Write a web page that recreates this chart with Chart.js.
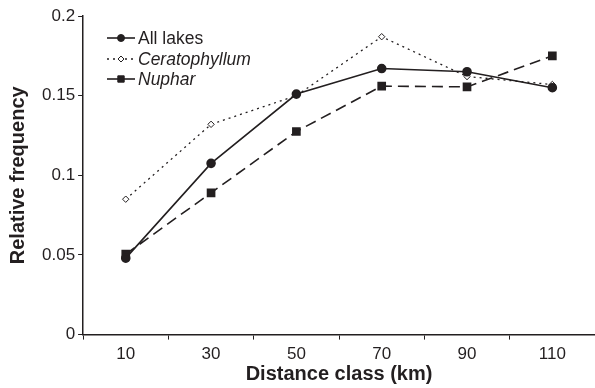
<!DOCTYPE html>
<html>
<head>
<meta charset="utf-8">
<script src="https://cdn.jsdelivr.net/npm/chart.js@4"></script>
<style>
  html, body { margin: 0; padding: 0; background: #fff; }
  #wrap { width: 595px; height: 388px; }
</style>
</head>
<body>
<div id="wrap"><canvas id="distChart" width="595" height="388"></canvas></div>
<script>
const distanceClasses = ['10', '30', '50', '70', '90', '110'];
const allLakes = [0.048, 0.1075, 0.151, 0.167, 0.165, 0.155];
const ceratophyllum = [0.085, 0.132, 0.150, 0.187, 0.162, 0.157];
const nuphar = [0.0505, 0.089, 0.1275, 0.156, 0.1555, 0.175];
const yTickLabels = ['0', '0.05', '0.1', '0.15', '0.2'];

const ink = '#231f20';
const fontFam = '"Liberation Sans", Arial, sans-serif';

// legend drawn inside the plot, top-left
const innerLegend = {
  id: 'innerLegend',
  afterDraw(chart) {
    const c = chart.ctx;
    const x0 = 107, x1 = 135;
    const ys = [38, 59, 79];
    c.save();
    chart.data.datasets.forEach((ds, i) => {
      const y = ys[i];
      c.strokeStyle = ink;
      c.lineWidth = ds.borderWidth;
      c.setLineDash(ds.legendDash || []);
      c.beginPath();
      c.moveTo(x0, y);
      c.lineTo(x1, y);
      c.stroke();
      c.setLineDash([]);
      c.fillStyle = ds.pointBackgroundColor;
      c.strokeStyle = ink;
      c.lineWidth = 1;
      Chart.helpers.drawPoint(c, {
        pointStyle: ds.pointStyle,
        radius: ds.legendRadius,
        borderWidth: 1
      }, (x0 + x1) / 2, y);
      c.fillStyle = ink;
      c.font = (ds.italic ? 'italic ' : '') + '17.5px ' + fontFam;
      c.textBaseline = 'middle';
      c.fillText(ds.label, x1 + 3, y + 1);
    });
    c.restore();
  }
};

const ctx = document.getElementById('distChart').getContext('2d');
new Chart(ctx, {
  type: 'line',
  data: {
    labels: distanceClasses,
    datasets: [
      {
        label: 'All lakes',
        data: allLakes,
        borderColor: ink,
        borderWidth: 1.6,
        pointStyle: 'circle',
        pointRadius: 4,
        legendRadius: 3.5,
        pointBackgroundColor: ink,
        pointBorderColor: ink,
        tension: 0
      },
      {
        label: 'Ceratophyllum',
        data: ceratophyllum,
        italic: true,
        borderColor: ink,
        borderWidth: 1.3,
        borderDash: [2, 4],
        legendDash: [2, 4],
        pointStyle: 'rectRot',
        pointRadius: 3.2,
        legendRadius: 3,
        pointBorderWidth: 1,
        pointBackgroundColor: '#fff',
        pointBorderColor: ink,
        tension: 0
      },
      {
        label: 'Nuphar',
        data: nuphar,
        italic: true,
        borderColor: ink,
        borderWidth: 1.6,
        borderDash: [11, 6],
        pointStyle: 'rect',
        pointRadius: 5,
        legendRadius: 4.5,
        pointBackgroundColor: ink,
        pointBorderColor: ink,
        tension: 0
      }
    ]
  },
  options: {
    responsive: false,
    animation: false,
    layout: { autoPadding: false, padding: { top: 16, right: 0, left: 6, bottom: 0 } },
    plugins: {
      legend: { display: false },
      tooltip: { enabled: false }
    },
    scales: {
      x: {
        offset: true,
        afterFit: (scale) => { scale.paddingRight = 0; },
        grid: {
          offset: true,
          drawOnChartArea: false,
          drawTicks: true,
          tickLength: 5,
          color: ink
        },
        border: { color: ink, width: 1.5 },
        ticks: {
          color: ink,
          padding: 5,
          font: { family: fontFam, size: 17 }
        },
        title: {
          display: true,
          text: 'Distance class (km)',
          color: ink,
          padding: { top: -8, bottom: 2 },
          font: { family: fontFam, size: 20, weight: 'bold' }
        }
      },
      y: {
        min: 0,
        max: 0.2,
        grid: {
          drawOnChartArea: false,
          tickLength: 5,
          color: ink
        },
        border: { color: ink, width: 1.5 },
        ticks: {
          stepSize: 0.05,
          color: ink,
          padding: 3,
          font: { family: fontFam, size: 17 },
          callback: (v, i) => yTickLabels[i]
        },
        title: {
          display: true,
          text: 'Relative frequency',
          color: ink,
          padding: { top: 0, bottom: 9 },
          font: { family: fontFam, size: 20, weight: 'bold' }
        }
      }
    }
  },
  plugins: [innerLegend]
});
</script>
</body>
</html>
